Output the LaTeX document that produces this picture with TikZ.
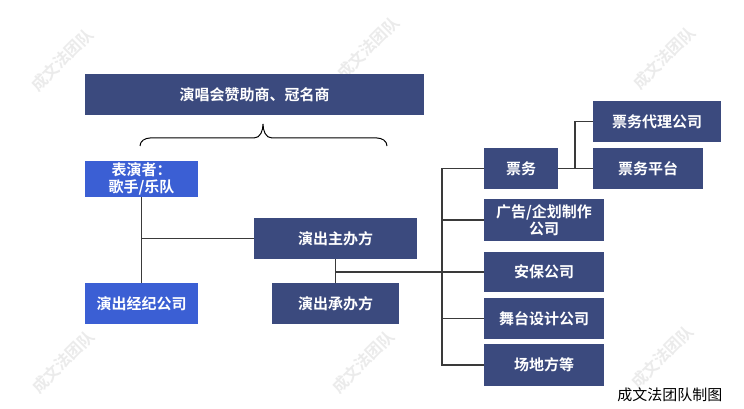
\documentclass[tikz,border=0pt]{standalone}
\usepackage{fontspec}
\setmainfont{Noto Sans CJK SC}[BoldFont={Noto Sans CJK SC Bold}]
\usetikzlibrary{calc}
\definecolor{navy}{HTML}{3B4A7E}
\definecolor{royal}{HTML}{3B5FD4}
\definecolor{linec}{HTML}{3A3A3A}
\definecolor{wm}{HTML}{EBEBEB}
\tikzset{
  box/.style={fill=navy, text=white, font=\fontsize{15}{17}\selectfont\bfseries, inner sep=0pt, align=center},
  bluebox/.style={box, fill=royal},
  conn/.style={draw=linec, line width=1.5pt},
  wmark/.style={text=wm, rotate=45, inner sep=0pt, font=\fontsize{16}{16}\selectfont\bfseries},
}
\begin{document}
\begin{tikzpicture}[x=1pt,y=-1pt]
\useasboundingbox[fill=white] (0,0) rectangle (744,409);
% watermarks
\foreach \p/\q in {62/60, 368/48, 664/58, 63/362, 363/362, 662/357}
  \node[wmark] (w\p) at (\p,\q) {成文法团队};
% nodes
\node[box, minimum width=339pt, minimum height=41pt] (top) at (254.5,94.5) {演唱会赞助商、冠名商};
\node[bluebox, minimum width=113pt, minimum height=36pt] (perf) at (141.5,179) {表演者：\\歌手/乐队};
\node[bluebox, minimum width=113pt, minimum height=41pt] (agency) at (141.5,303.5) {演出经纪公司};
\node[box, minimum width=163pt, minimum height=41pt] (host) at (335.5,238.5) {演出主办方};
\node[box, minimum width=127pt, minimum height=41pt] (cohost) at (335.5,303.5) {演出承办方};
\node[box, minimum width=74pt, minimum height=41pt] (ticket) at (521,168.5) {票务};
\node[box, minimum width=120pt, minimum height=42pt] (ad) at (544,220) {广告/企划制作\\公司};
\node[box, minimum width=120pt, minimum height=40pt] (sec) at (544,272) {安保公司};
\node[box, minimum width=120pt, minimum height=41pt] (stage) at (544,318.5) {舞台设计公司};
\node[box, minimum width=120pt, minimum height=42pt] (venue) at (544,365) {场地方等};
\node[box, minimum width=128pt, minimum height=41pt] (agent) at (657,121.5) {票务代理公司};
\node[box, minimum width=110pt, minimum height=41pt] (platform) at (648,168.5) {票务平台};
\node[font=\fontsize{15}{15}\selectfont, anchor=east] (caption) at (726,395) {成文法团队制图};
% brace
\draw[line width=1pt, black] (140,146) to[out=90,in=180] (150,138) -- (254,138)
  to[out=0,in=-90] (263,124) to[out=-90,in=180] (272,138) -- (377,138) to[out=0,in=90] (387,146);
% connectors
\coordinate (bus) at (442,0);
\coordinate (split) at (575,168.5);
\draw[conn] (perf) -- (agency);
\draw[conn] (perf.south |- host.west) -- (host.west);
\draw[conn] (host) -- (cohost);
\draw[conn, line width=2pt] (host.south |- sec.west) -- (sec.west);
\draw[conn] (ticket.west) -- (bus |- ticket.west) -- (bus |- venue.west) -- (venue.west);
\draw[conn] (bus |- ad.west) -- (ad.west);
\draw[conn] (bus |- stage.west) -- (stage.west);
\draw[conn] (ticket.east) -- (platform.west);
\draw[conn] (split) |- (agent.west);
\end{tikzpicture}
\end{document}
